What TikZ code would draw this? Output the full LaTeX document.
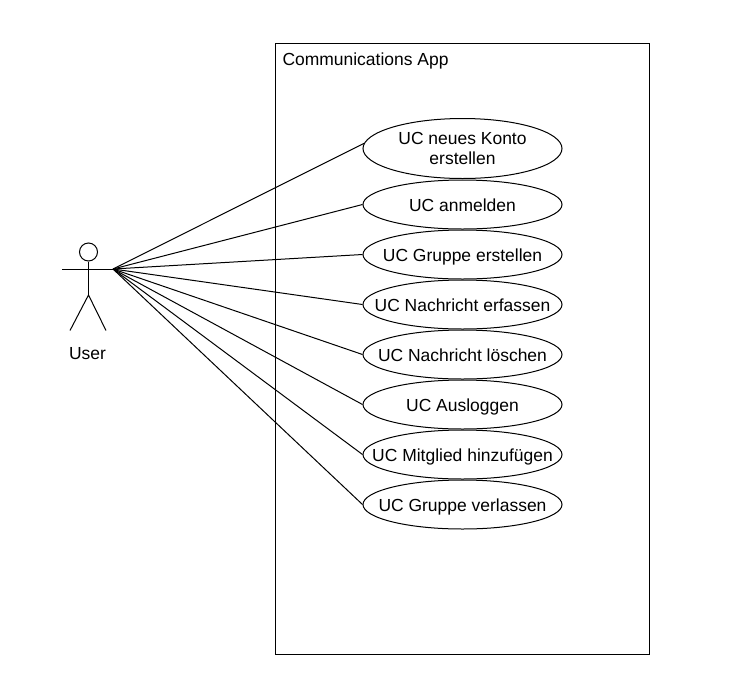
\documentclass[tikz,border=0pt]{standalone}
\usepackage{fontspec}
\setmainfont{Liberation Sans}
\usetikzlibrary{shapes.geometric}
\tikzset{every picture/.style={line width=0.75pt}}
\tikzset{
  usecase/.style={draw,ellipse,minimum width=149.25pt,minimum height=36.75pt,inner xsep=-60pt,inner ysep=-20pt,align=center,font=\fontsize{13.1}{15}\selectfont},
  oneline/.style={usecase,text height=11pt,text depth=0pt},
  lbl/.style={inner sep=0pt,text height=11pt,text depth=0pt,font=\fontsize{13.1}{15}\selectfont,align=left}
}
\begin{document}
\begin{tikzpicture}[x=0.75pt,y=0.75pt,yscale=-1,xscale=1]
\useasboundingbox (0,0) rectangle (747,683);

% system box
\draw (275.5,43.5) -- (649.5,43.5) -- (649.5,654.5) -- (275.5,654.5) -- cycle ;
\node [lbl,anchor=west] (title) at (282,58) {Communications App};

% use cases
\node [usecase,minimum height=45pt] (neu) at (462.5,148.5) {UC neues Konto\\erstellen};
\node [oneline] (anm) at (462.5,204.5) {UC anmelden};
\node [oneline] (grp) at (462.5,254.5) {UC Gruppe erstellen};
\node [oneline] (erf) at (462.5,304.5) {UC Nachricht erfassen};
\node [oneline] (loe) at (462.5,354.5) {UC Nachricht löschen};
\node [oneline] (aus) at (462.5,404.5) {UC Ausloggen};
\node [oneline] (mit) at (462.5,454.5) {UC Mitglied hinzufügen};
\node [oneline] (ver) at (462.5,504.5) {UC Gruppe verlassen};

% actor
\node [draw,circle,minimum size=13.5pt,inner sep=0pt] (head) at (88.5,252) {};
\coordinate (hip) at (88.5,295);
\coordinate (armL) at (62,269);
\coordinate (hand) at (113,269);
\coordinate (footL) at (70,330.5);
\coordinate (footR) at (106,330.5);
\draw (head) -- (hip);
\draw (armL) -- (hand);
\draw (footL) -- (hip) -- (footR);
\node [lbl] (user) at (87.5,352) {User};

% associations
\draw (hand) -- (neu.177);
\foreach \uc in {anm,grp,erf,loe,aus,mit,ver}
  \draw (hand) -- (\uc.west);

\end{tikzpicture}
\end{document}
